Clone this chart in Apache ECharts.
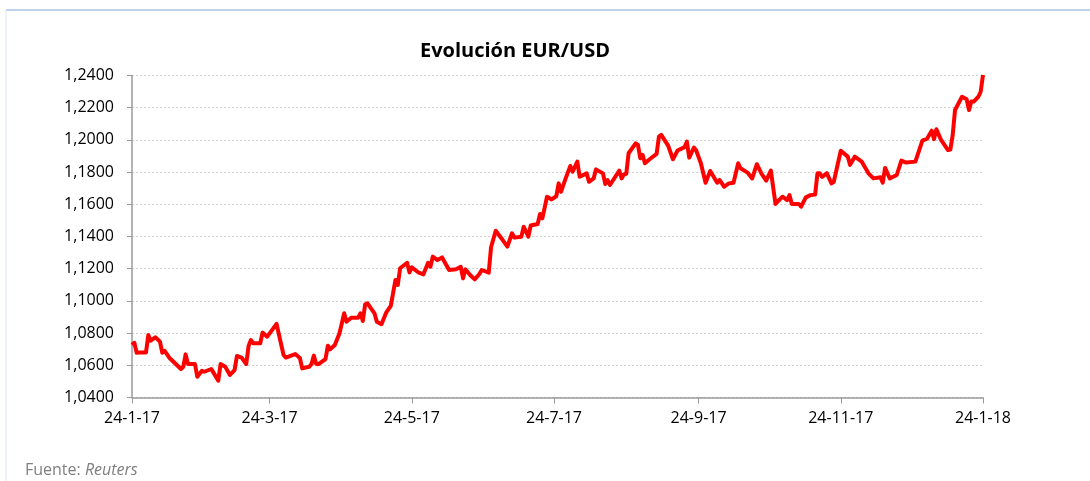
<!DOCTYPE html>
<html>
<head>
<meta charset="utf-8">
<title>Evolución EUR/USD</title>
<script src="https://cdn.jsdelivr.net/npm/echarts@6/dist/echarts.min.js"></script>
<style>
  html, body { margin: 0; padding: 0; background: #fff; }
  #chart { width: 1090px; height: 481px; }
</style>
</head>
<body>
<div id="chart"></div>
<script>
// fechas y cotización EUR/USD
var fechas = [
  '2017-01-24','2017-01-25','2017-01-26','2017-01-27','2017-01-30','2017-01-31','2017-02-01','2017-02-03','2017-02-05','2017-02-06',
  '2017-02-07','2017-02-09','2017-02-11','2017-02-14','2017-02-15','2017-02-16','2017-02-17','2017-02-20','2017-02-21','2017-02-23',
  '2017-02-24','2017-02-27','2017-02-28','2017-03-02','2017-03-03','2017-03-05','2017-03-07','2017-03-09','2017-03-10','2017-03-12',
  '2017-03-14','2017-03-15','2017-03-16','2017-03-17','2017-03-20','2017-03-21','2017-03-23','2017-03-27','2017-03-30','2017-03-31',
  '2017-04-04','2017-04-06','2017-04-07','2017-04-10','2017-04-11','2017-04-12','2017-04-13','2017-04-14','2017-04-17','2017-04-18',
  '2017-04-19','2017-04-21','2017-04-23','2017-04-25','2017-04-26','2017-04-28','2017-05-01','2017-05-02','2017-05-03','2017-05-04',
  '2017-05-05','2017-05-08','2017-05-09','2017-05-11','2017-05-13','2017-05-15','2017-05-17','2017-05-18','2017-05-19','2017-05-22',
  '2017-05-23','2017-05-24','2017-05-27','2017-05-29','2017-05-31','2017-06-01','2017-06-02','2017-06-04','2017-06-06','2017-06-09',
  '2017-06-12','2017-06-14','2017-06-15','2017-06-16','2017-06-18','2017-06-20','2017-06-22','2017-06-23','2017-06-26','2017-06-27',
  '2017-06-29','2017-07-02','2017-07-04','2017-07-06','2017-07-07','2017-07-10','2017-07-11','2017-07-13','2017-07-14','2017-07-17',
  '2017-07-18','2017-07-19','2017-07-21','2017-07-23','2017-07-25','2017-07-26','2017-07-27','2017-07-29','2017-07-31','2017-08-01',
  '2017-08-03','2017-08-04','2017-08-07','2017-08-08','2017-08-10','2017-08-11','2017-08-14','2017-08-15','2017-08-16','2017-08-17',
  '2017-08-21','2017-08-22','2017-08-23','2017-08-24','2017-08-25','2017-08-28','2017-08-29','2017-08-30','2017-08-31','2017-09-01',
  '2017-09-03','2017-09-06','2017-09-07','2017-09-08','2017-09-11','2017-09-13','2017-09-15','2017-09-18','2017-09-19','2017-09-20',
  '2017-09-22','2017-09-23','2017-09-25','2017-09-27','2017-09-29','2017-10-02','2017-10-03','2017-10-05','2017-10-07','2017-10-09',
  '2017-10-11','2017-10-12','2017-10-15','2017-10-17','2017-10-19','2017-10-21','2017-10-23','2017-10-25','2017-10-27','2017-10-30',
  '2017-11-01','2017-11-02','2017-11-03','2017-11-06','2017-11-07','2017-11-09','2017-11-11','2017-11-13','2017-11-14','2017-11-15',
  '2017-11-16','2017-11-18','2017-11-20','2017-11-21','2017-11-24','2017-11-27','2017-11-28','2017-11-30','2017-12-03','2017-12-06',
  '2017-12-08','2017-12-11','2017-12-12','2017-12-13','2017-12-15','2017-12-18','2017-12-20','2017-12-22','2017-12-26','2017-12-29',
  '2017-12-31','2018-01-02','2018-01-03','2018-01-04','2018-01-06','2018-01-09','2018-01-10','2018-01-11','2018-01-12','2018-01-15',
  '2018-01-17','2018-01-18','2018-01-19','2018-01-20','2018-01-22','2018-01-23','2018-01-24'
];

var cotizacion = [
  1.0726,1.0740,1.0678,1.0680,1.0680,1.0788,1.0753,1.0774,1.0747,1.0678,
  1.0690,1.0647,1.0619,1.0577,1.0591,1.0668,1.0608,1.0608,1.0529,1.0566,
  1.0560,1.0577,1.0553,1.0504,1.0608,1.0591,1.0540,1.0570,1.0658,1.0648,
  1.0608,1.0720,1.0757,1.0737,1.0737,1.0803,1.0778,1.0857,1.0664,1.0648,
  1.0670,1.0645,1.0581,1.0591,1.0608,1.0660,1.0608,1.0608,1.0639,1.0722,
  1.0699,1.0726,1.0799,1.0923,1.0871,1.0896,1.0896,1.0923,1.0875,1.0979,
  1.0985,1.0923,1.0871,1.0855,1.0927,1.0969,1.1130,1.1099,1.1203,1.1237,
  1.1177,1.1208,1.1175,1.1165,1.1237,1.1212,1.1275,1.1254,1.1270,1.1192,
  1.1196,1.1212,1.1140,1.1196,1.1161,1.1134,1.1167,1.1192,1.1175,1.1333,
  1.1436,1.1378,1.1337,1.1420,1.1393,1.1399,1.1461,1.1399,1.1468,1.1478,
  1.1540,1.1513,1.1647,1.1630,1.1651,1.1730,1.1678,1.1761,1.1838,1.1803,
  1.1865,1.1771,1.1792,1.1740,1.1761,1.1817,1.1792,1.1726,1.1751,1.1720,
  1.1809,1.1761,1.1786,1.1790,1.1917,1.1979,1.1969,1.1886,1.1907,1.1855,
  1.1880,1.1913,1.2020,1.2031,1.1963,1.1880,1.1934,1.1955,1.1989,1.1890,
  1.1953,1.1934,1.1855,1.1734,1.1807,1.1734,1.1751,1.1709,1.1730,1.1734,
  1.1855,1.1824,1.1797,1.1761,1.1849,1.1790,1.1747,1.1809,1.1602,1.1647,
  1.1626,1.1657,1.1602,1.1602,1.1585,1.1643,1.1657,1.1661,1.1793,1.1793,
  1.1770,1.1793,1.1730,1.1740,1.1933,1.1896,1.1845,1.1896,1.1865,1.1790,
  1.1761,1.1768,1.1734,1.1826,1.1761,1.1782,1.1871,1.1859,1.1865,1.1995,
  1.2007,1.2057,1.2005,1.2066,1.2000,1.1937,1.1940,1.2030,1.2186,1.2268,
  1.2252,1.2186,1.2238,1.2238,1.2268,1.2299,1.2403
];

// marcas del eje X
var fechasEje = ['2017-01-24','2017-03-24','2017-05-24','2017-07-24','2017-09-24','2017-11-24','2018-01-24'];
var etiquetasEje = ['24-1-17','24-3-17','24-5-17','24-7-17','24-9-17','24-11-17','24-1-18'];

// días transcurridos desde la primera fecha
var inicio = Date.UTC(2017, 0, 24);
var toDia = function(s) {
	var p = s.split('-');
	return Math.round((Date.UTC(+p[0], +p[1] - 1, +p[2]) - inicio) / 86400000);
};

var serie = [];
for (var i = 0; i < fechas.length; i++) {
	serie.push([toDia(fechas[i]), cotizacion[i]]);
}
var ticks = fechasEje.map(toDia);

var myChart = echarts.init(document.getElementById('chart'));
var option = {
	backgroundColor: '#fff',
	animation: false,
	textStyle: { fontFamily: 'Open Sans' },
	title: {
		text: 'Evolución EUR/USD',
		left: 510,
		textAlign: 'center',
		top: 36,
		textStyle: {
			fontFamily: 'Open Sans',
			fontSize: 20,
			fontWeight: 'bold',
			color: '#000'
		}
	},
	grid: {
		left: 132,
		right: 107,
		top: 75.5,
		bottom: 83.5
	},
	xAxis: {
		type: 'value',
		min: ticks[0],
		max: ticks[ticks.length - 1],
		axisLine: { lineStyle: { color: '#9a9a9a', width: 1.5 } },
		axisTick: {
			show: true,
			length: 6,
			customValues: ticks,
			lineStyle: { color: '#9a9a9a' }
		},
		axisLabel: {
			customValues: ticks,
			margin: 13,
			fontSize: 16,
			color: '#000',
			formatter: function(v) {
				var k = ticks.indexOf(v);
				return k >= 0 ? etiquetasEje[k] : '';
			}
		},
		splitLine: { show: false }
	},
	yAxis: {
		type: 'value',
		min: 1.04,
		max: 1.24,
		interval: 0.02,
		axisLine: { show: true, lineStyle: { color: '#9a9a9a', width: 1.5 } },
		axisTick: { show: true, length: 5, lineStyle: { color: '#9a9a9a' } },
		axisLabel: {
			fontSize: 16,
			color: '#000',
			margin: 18,
			formatter: function(v) {
				return v.toFixed(4).replace('.', ',');
			}
		},
		splitLine: {
			lineStyle: { color: '#cfcfcf', type: [2, 2], width: 1 }
		}
	},
	series: [{
		name: 'EUR/USD',
		type: 'line',
		data: serie,
		showSymbol: false,
		symbol: 'none',
		lineStyle: { color: '#ff0000', width: 4, join: 'round' }
	}],
	graphic: [
		{ type: 'line', shape: { x1: 6, y1: 10, x2: 1090, y2: 10 }, style: { stroke: '#a9c3e6', lineWidth: 1.5 } },
		{ type: 'line', shape: { x1: 6, y1: 10, x2: 6, y2: 481 }, style: { stroke: '#dbe6f4', lineWidth: 1 } },
		{
			type: 'text',
			left: 25,
			top: 462,
			style: {
				text: '{a|Fuente: }{b|Reuters}',
				rich: {
					a: { fontFamily: 'Open Sans', fontSize: 16, fill: '#7f7f7f' },
					b: { fontFamily: 'Open Sans', fontSize: 16, fontStyle: 'italic', fill: '#7f7f7f' }
				}
			}
		}
	]
};
myChart.setOption(option);
</script>
</body>
</html>
